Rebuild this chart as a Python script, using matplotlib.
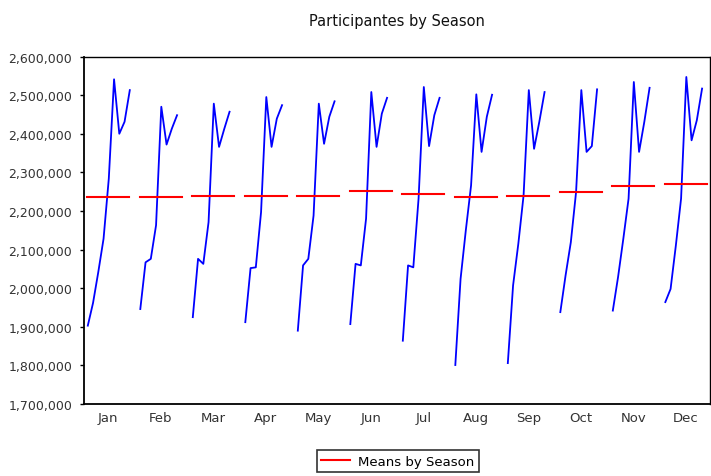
import matplotlib
matplotlib.use("Agg")
import matplotlib.pyplot as plt
from matplotlib.ticker import FuncFormatter
import numpy as np

# Seasonal subseries: one value per year for each month (Jan has one extra year)
months = ["Jan", "Feb", "Mar", "Apr", "May", "Jun",
          "Jul", "Aug", "Sep", "Oct", "Nov", "Dec"]

jan_vals = [1903000, 1962000, 2042000, 2128000, 2284000, 2541000, 2400000, 2431000, 2513000]
feb_vals = [1946000, 2067000, 2076000, 2163000, 2470000, 2372000, 2413000, 2448000]
mar_vals = [1925000, 2076000, 2063000, 2171000, 2478000, 2366000, 2413000, 2457000]
apr_vals = [1912000, 2052000, 2054000, 2197000, 2495000, 2366000, 2439000, 2474000]
may_vals = [1890000, 2059000, 2076000, 2188000, 2478000, 2374000, 2444000, 2484000]
jun_vals = [1907000, 2063000, 2059000, 2180000, 2508000, 2366000, 2452000, 2493000]
jul_vals = [1864000, 2059000, 2054000, 2232000, 2521000, 2368000, 2448000, 2493000]
aug_vals = [1801000, 2024000, 2150000, 2266000, 2502000, 2353000, 2444000, 2501000]
sep_vals = [1806000, 2007000, 2115000, 2240000, 2513000, 2361000, 2431000, 2508000]
oct_vals = [1938000, 2033000, 2119000, 2249000, 2513000, 2353000, 2368000, 2515000]
nov_vals = [1942000, 2029000, 2128000, 2232000, 2534000, 2353000, 2431000, 2519000]
dec_vals = [1964000, 1998000, 2110000, 2232000, 2547000, 2383000, 2435000, 2517000]

# mean level of each season (red bars)
season_means = [2236000, 2236000, 2240000, 2240000, 2240000, 2251000,
                2245000, 2236000, 2240000, 2250000, 2265000, 2270000]

y_ticks = [1700000, 1800000, 1900000, 2000000, 2100000,
           2200000, 2300000, 2400000, 2500000, 2600000]

series = [jan_vals, feb_vals, mar_vals, apr_vals, may_vals, jun_vals,
          jul_vals, aug_vals, sep_vals, oct_vals, nov_vals, dec_vals]

fig = plt.figure(figsize=(7.11, 4.77), dpi=100)
ax = fig.add_axes([0.1181, 0.1509, 0.8805, 0.7285])

step = 0.1  # spacing of years inside one season slot
for m, vals in enumerate(series):
    xs = m - 0.39 + step * np.arange(len(vals))
    ax.plot(xs, vals, color="#0000FF", linewidth=1.3)
    line, = ax.plot([m - 0.4, m + 0.4], [season_means[m]] * 2,
                    color="#FF0000", linewidth=1.5)
line.set_label("Means by Season")

ax.set_xlim(-0.463, 11.461)
ax.set_ylim(1700000, 2600000)
ax.set_yticks(y_ticks)
ax.yaxis.set_major_formatter(FuncFormatter(lambda v, _: f"{int(v):,}"))
ax.set_xticks(range(12))
ax.set_xticklabels(months)

ax.tick_params(axis="y", direction="out", length=3, width=1, pad=5.5,
               labelsize=9, labelcolor="#333333")
ax.tick_params(axis="x", length=0, pad=5, labelsize=9.5, labelcolor="#333333")

for side in ["left", "bottom", "top", "right"]:
    ax.spines[side].set_color("black")
    ax.spines[side].set_linewidth(1.0)
ax.spines["left"].set_linewidth(1.3)
ax.spines["bottom"].set_linewidth(1.3)

fig.text(397 / 711, 1 - 21.7 / 477, "Participantes by Season",
         ha="center", va="center", fontsize=10.5, color="#111111")

leg = fig.legend(handles=[line], loc="upper center",
                 bbox_to_anchor=(398 / 711, 1 - 451 / 477),
                 fontsize=9.5, frameon=True, fancybox=False,
                 handlelength=2.2, borderpad=0.35, handletextpad=0.6,
                 borderaxespad=0)
leg.get_frame().set_edgecolor("black")
leg.get_frame().set_linewidth(1.2)

fig.savefig("out.png", dpi=100)
